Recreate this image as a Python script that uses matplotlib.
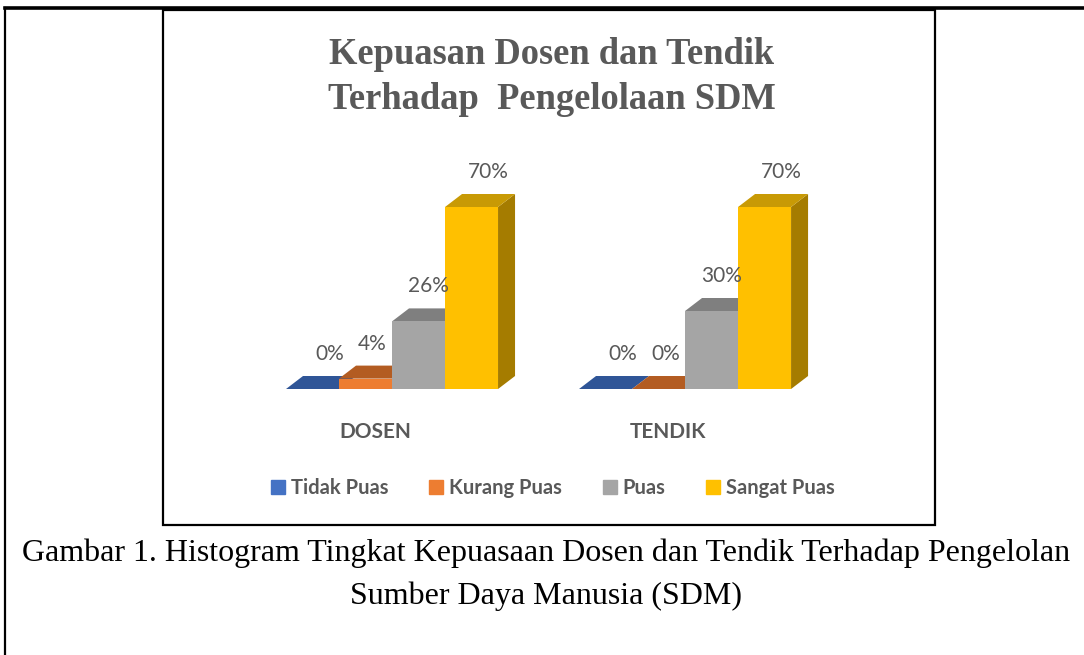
import numpy as np
import matplotlib
matplotlib.use('Agg')
from matplotlib import pyplot as plt, patches as pat
from matplotlib.lines import Line2D

# data -----------------------------------------------------------------------
groups = ['DOSEN', 'TENDIK']
series = ['Tidak Puas', 'Kurang Puas', 'Puas', 'Sangat Puas']
values = {
    'Tidak Puas': [0, 0],
    'Kurang Puas': [4, 0],
    'Puas': [26, 30],
    'Sangat Puas': [70, 70],
}
front_col = ['#4472C4', '#ED7D31', '#A5A5A5', '#FFC000']
top_col = ['#2F5597', '#B35C22', '#7F7F7F', '#C89A05']
side_col = ['#264478', '#9E480E', '#6E6E6E', '#A57C00']

title = 'Kepuasan Dosen dan Tendik\nTerhadap  Pengelolaan SDM'
caption = ('Gambar 1. Histogram Tingkat Kepuasaan Dosen dan Tendik Terhadap Pengelolan\n'
           'Sumber Daya Manusia (SDM)')

# figure ---------------------------------------------------------------------
W, H = 1084, 655
fig = plt.figure(figsize=(W / 100, H / 100), dpi=100)

def fx(px): return px / W
def fy(py): return 1 - py / H

# page frame and chart box
fig.add_artist(Line2D([fx(5), fx(5)], [fy(8), 0], color='black', lw=1.6))
fig.add_artist(Line2D([fx(5), 1], [fy(8), fy(8)], color='black', lw=2.6))
fig.add_artist(pat.Rectangle((fx(163), fy(525)), fx(935) - fx(163), fy(10) - fy(525),
                             fill=False, edgecolor='black', lw=1.6))

# axes: baseline at y=389 px, 2.6 px per percent
ax = fig.add_axes([fx(163), fy(389), fx(935) - fx(163), 260 / H])
ax.set_xlim(-0.7816, 1.853)
ax.set_ylim(0, 100)
ax.axis('off')

w = 53 / 293      # bar width in group units
dx = 17 / 293     # depth offset (x)
dy = 5.0          # depth offset (y, percent units)
xc = np.arange(len(groups))

lab_nudge = [0.0, -0.035, -0.025, 0.0]
for g in range(len(groups)):
    for i, s in enumerate(series):
        h = values[s][g]
        x0 = xc[g] + (i - 2) * w
        x1 = x0 + w
        ax.add_patch(pat.Polygon([(x1, 0), (x1, h), (x1 + dx, h + dy), (x1 + dx, dy)],
                                 closed=True, color=side_col[i], lw=0, zorder=2 + i))
        ax.add_patch(pat.Polygon([(x0, h), (x1, h), (x1 + dx, h + dy), (x0 + dx, h + dy)],
                                 closed=True, color=top_col[i], lw=0, zorder=2 + i))
        ax.bar(x0, h, width=w, align='edge', color=front_col[i], lw=0, zorder=2 + i)
        ax.text(x0 + w / 2 + dx + lab_nudge[i], h + dy + 8.5, f'{h}%',
                ha='center', va='center', fontsize=15, color='#595959',
                family='Lato', zorder=10)

for g, name in enumerate(groups):
    ax.text(xc[g] - dx, -16.5, name, ha='center', va='center', fontsize=15,
            fontweight='bold', color='#595959', family='Lato')

handles = [pat.Patch(color=c) for c in front_col]
leg = fig.legend(handles, series, loc='center', bbox_to_anchor=(fx(553), fy(488)),
                 ncol=4, frameon=False, handlelength=0.7, handleheight=0.7,
                 handletextpad=0.3, columnspacing=2.0,
                 prop={'family': 'Lato', 'weight': 'bold', 'size': 14.5})
for t in leg.get_texts():
    t.set_color('#595959')

fig.text(fx(552), fy(77), title, ha='center', va='center', fontsize=26.3,
         fontweight='bold', color='#595959', family='Liberation Serif',
         linespacing=1.4)

fig.text(fx(546), fy(575), caption, ha='center', va='center', fontsize=23,
         color='black', family='Liberation Serif', linespacing=1.62)

fig.savefig('out.png', dpi=100)
